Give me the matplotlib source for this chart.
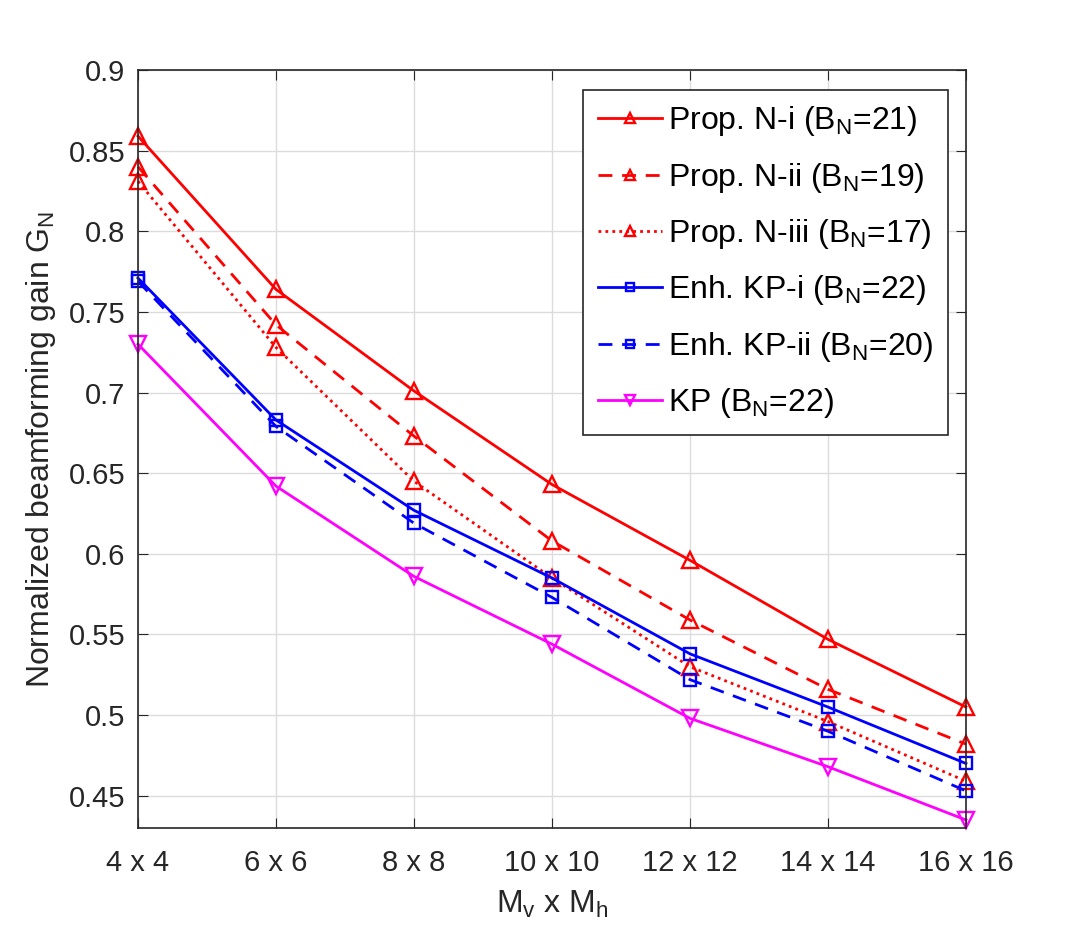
import matplotlib.pyplot as plt
import numpy as np

plt.rcParams['font.family'] = ['Liberation Sans', 'DejaVu Sans']
plt.rcParams['mathtext.fontset'] = 'custom'
plt.rcParams['mathtext.rm'] = 'Liberation Sans'
plt.rcParams['mathtext.it'] = 'Liberation Sans'

# --- dados ---
sizes = ['4 x 4', '6 x 6', '8 x 8', '10 x 10', '12 x 12', '14 x 14', '16 x 16']
prop_i = [0.859, 0.764, 0.701, 0.643, 0.596, 0.547, 0.505]
prop_ii = [0.840, 0.742, 0.673, 0.608, 0.559, 0.516, 0.482]
prop_iii = [0.831, 0.728, 0.645, 0.585, 0.530, 0.496, 0.459]
enh_i = [0.771, 0.683, 0.627, 0.585, 0.538, 0.505, 0.470]
enh_ii = [0.769, 0.679, 0.619, 0.573, 0.522, 0.490, 0.453]
kp = [0.730, 0.642, 0.586, 0.544, 0.498, 0.468, 0.435]

x = np.arange(len(sizes))

fig = plt.figure(figsize=(10.67, 9.36), dpi=100)
ax = fig.add_axes([0.1293, 0.1154, 0.776, 0.8098])

lw = 2.0
ms = 11
mew = 1.7
dash = (0, (5, 3.5))
dot = (0, (1, 1.5))

series = [
    (prop_i, 'red', '-', '^', r'Prop. N-i (B$_\mathrm{N}$=21)'),
    (prop_ii, 'red', dash, '^', r'Prop. N-ii (B$_\mathrm{N}$=19)'),
    (prop_iii, 'red', dot, '^', r'Prop. N-iii (B$_\mathrm{N}$=17)'),
    (enh_i, 'blue', '-', 's', r'Enh. KP-i (B$_\mathrm{N}$=22)'),
    (enh_ii, 'blue', dash, 's', r'Enh. KP-ii (B$_\mathrm{N}$=20)'),
    (kp, 'magenta', '-', 'v', r'KP (B$_\mathrm{N}$=22)'),
]
for vals, c, ls, mk, lab in series:
    size = ms - 2 if mk == 's' else ms
    ax.plot(x, vals, color=c, ls=ls, lw=lw, marker=mk, ms=size, mfc='none', mew=mew,
            label=lab, clip_on=False, zorder=3)

# --- eixos ---
ax.set_xlim(0, len(sizes) - 1)
ax.set_ylim(0.43, 0.9)
ax.set_xticks(x)
ax.set_xticklabels(sizes)
ax.set_yticks(np.arange(0.45, 0.901, 0.05))
ax.set_yticklabels(['0.45', '0.5', '0.55', '0.6', '0.65', '0.7', '0.75', '0.8', '0.85', '0.9'])
ax.tick_params(direction='in', top=True, right=True, labelsize=21, length=7,
               color='#262626', labelcolor='#262626', pad=9)
ax.tick_params(axis='x', pad=15)
for s in ax.spines.values():
    s.set_color('#262626')
    s.set_linewidth(1.2)
    s.set_zorder(4)
ax.grid(True, color='#dcdcdc', lw=1.0)
ax.set_axisbelow(True)

ax.set_xlabel(r'M$_\mathrm{v}$ x M$_\mathrm{h}$', fontsize=23, color='#262626', labelpad=9)
ax.set_ylabel(r'Normalized beamforming gain G$_\mathrm{N}$', fontsize=23, color='#262626', labelpad=8)

leg = ax.legend(loc='upper right', bbox_to_anchor=(1 - 18 / 828, 1 - 20 / 758), borderaxespad=0,
                fontsize=23, fancybox=False, edgecolor='#262626', framealpha=1,
                handlelength=2.0, handletextpad=0.2, labelspacing=0.7, markerscale=0.7,
                borderpad=0.45)
leg.get_frame().set_linewidth(1.2)
leg.set_zorder(5)

fig.savefig('out.png', dpi=100)
